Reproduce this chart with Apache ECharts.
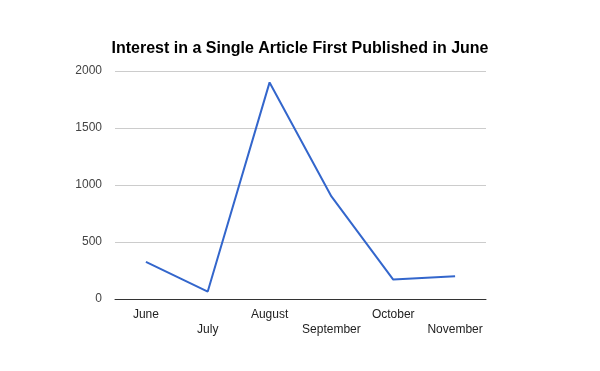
<!DOCTYPE html>
<html>
<head>
<meta charset="utf-8">
<script src="https://cdn.jsdelivr.net/npm/echarts@6/dist/echarts.min.js"></script>
<style>html,body{margin:0;padding:0;background:#fff}#c{width:600px;height:371px}</style>
</head>
<body>
<div id="c"></div>
<script>
var categories = ['June', 'July', 'August', 'September', 'October', 'November'];
var interest = [325, 65, 1900, 900, 170, 200];
var yTicks = [0, 500, 1000, 1500, 2000];

var chart = echarts.init(document.getElementById('c'), null, {renderer: 'canvas'});
chart.setOption({
  animation: false,
  backgroundColor: '#fff',
  title: {
    text: 'Interest in a Single Article First Published in June',
    left: 'center',
    top: 36,
    textStyle: {fontFamily: 'Liberation Sans, Arial', fontSize: 16, fontWeight: 'bold', color: '#000'}
  },
  grid: {left: 115, right: 114, top: 71, bottom: 72},
  xAxis: {
    type: 'category',
    data: categories,
    boundaryGap: true,
    axisLine: {lineStyle: {color: '#333', width: 1}},
    axisTick: {show: false},
    axisLabel: {
      interval: 0,
      margin: 8,
      fontFamily: 'Liberation Sans, Arial',
      fontSize: 12,
      color: '#222',
      lineHeight: 15,
      formatter: function (v, i) { return i % 2 ? '\n' + v : v; }
    }
  },
  yAxis: {
    type: 'value',
    min: yTicks[0],
    max: yTicks[yTicks.length - 1],
    interval: 500,
    axisLine: {show: false},
    axisTick: {show: false},
    splitLine: {lineStyle: {color: '#ccc'}},
    axisLabel: {
      margin: 13, fontFamily: 'Liberation Sans, Arial', fontSize: 12, color: '#444',
      formatter: function (v) { return String(v); }
    }
  },
  series: [{
    type: 'line',
    data: interest,
    showSymbol: false,
    symbol: 'none',
    lineStyle: {color: '#3366cc', width: 2},
    itemStyle: {color: '#3366cc'}
  }]
});
</script>
</body>
</html>
